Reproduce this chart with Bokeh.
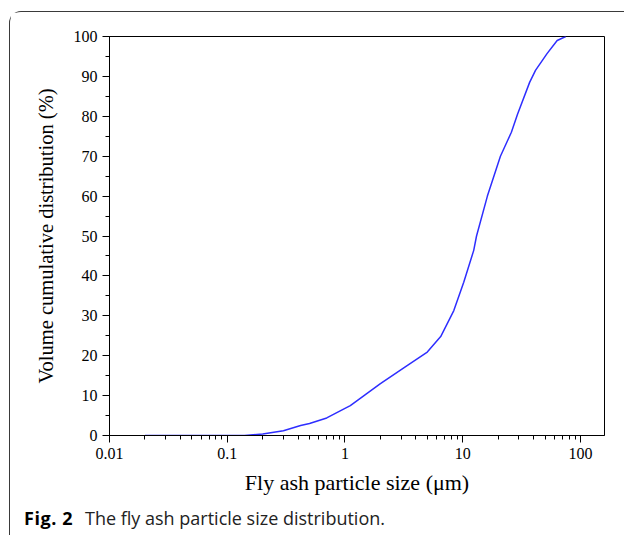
from bokeh.plotting import figure
from bokeh.models import FixedTicker, CustomJSTickFormatter, Range1d, Div
from bokeh.layouts import column
from bokeh.embed import file_html
from bokeh.resources import INLINE

# ---- data ----
size_um = [0.02, 0.05, 0.1, 0.14, 0.2, 0.3, 0.42, 0.5, 0.7, 1.0, 1.11, 1.5, 2.0,
           3.37, 5.0, 6.5, 8.4, 10.2, 12.4, 13.1, 16.2, 20.9, 25.9, 29.2, 37.0,
           41.5, 52.0, 63.4, 75.0]
cumulative = [0, 0, 0, 0, 0.4, 1.2, 2.5, 3.0, 4.4, 6.8, 7.5, 10.3, 13.0,
              17.5, 20.9, 24.8, 31.3, 38.4, 46.4, 50.0, 60.0, 70.0, 76.0, 80.5, 88.5,
              91.5, 95.7, 99.0, 100.0]
x_ticks = [0.01, 0.1, 1, 10, 100]
x_minor = [m * d for d in [0.01, 0.1, 1, 10, 100] for m in range(2, 10) if m * d < 160]
y_ticks = list(range(0, 101, 10))
y_minor = list(range(0, 101, 5))
x_label = "Fly ash particle size (μm)"
y_label = "Volume cumulative distribution (%)"
cap_bold = "Fig. 2"
cap_text = "The fly ash particle size distribution."

SERIF = "Liberation Serif"

p = figure(width=613, height=490, x_axis_type="log",
           x_range=Range1d(0.01, 160), y_range=Range1d(0, 100),
           output_backend="svg", toolbar_location=None,
           min_border_left=99, min_border_right=19, min_border_top=24, min_border_bottom=67,
           frame_width=495, frame_height=399)

p.background_fill_color = "white"
p.border_fill_color = "white"
p.outline_line_color = "black"
p.outline_line_width = 1
p.grid.visible = False

p.line(size_um, cumulative, line_color="#2e2eff", line_width=1.5)

xa = p.xaxis[0]
xa.ticker = FixedTicker(ticks=x_ticks, minor_ticks=x_minor)
xa.formatter = CustomJSTickFormatter(code="return tick.toString();")
ya = p.yaxis[0]
ya.ticker = FixedTicker(ticks=y_ticks, minor_ticks=y_minor)

for ax in (xa, ya):
    ax.axis_line_color = "black"
    ax.major_tick_line_color = "black"
    ax.minor_tick_line_color = "black"
    ax.major_tick_in = 0
    ax.major_tick_out = 7
    ax.minor_tick_in = 0
    ax.minor_tick_out = 4
    ax.major_label_text_font = SERIF
    ax.major_label_text_font_size = "16px"
    ax.major_label_text_color = "black"
    ax.axis_label_text_font = SERIF
    ax.axis_label_text_font_style = "normal"
    ax.axis_label_text_color = "black"

xa.axis_label = x_label
xa.axis_label_text_font_size = "22px"
xa.axis_label_standoff = 8
ya.axis_label = y_label
ya.axis_label_text_font_size = "20.5px"
ya.axis_label_standoff = 14

caption = Div(
    text=f'<span style="display:inline-block;width:61px;font-weight:700;'
         f'letter-spacing:0.6px;color:#000">{cap_bold}</span>{cap_text}',
    width=613, height=32,
    styles={"font-family": "'Open Sans', sans-serif", "font-size": "18px",
            "color": "#222", "padding-left": "9px", "line-height": "23px",
            "white-space": "nowrap"})

layout = column(p, caption, spacing=0,
                styles={"margin-top": "11px", "margin-left": "9px",
                        "border-top": "1px solid #3a3a3a", "border-left": "1px solid #3a3a3a",
                        "border-top-left-radius": "12px", "background": "white"})

open("out.html", "w").write(file_html(layout, INLINE))
